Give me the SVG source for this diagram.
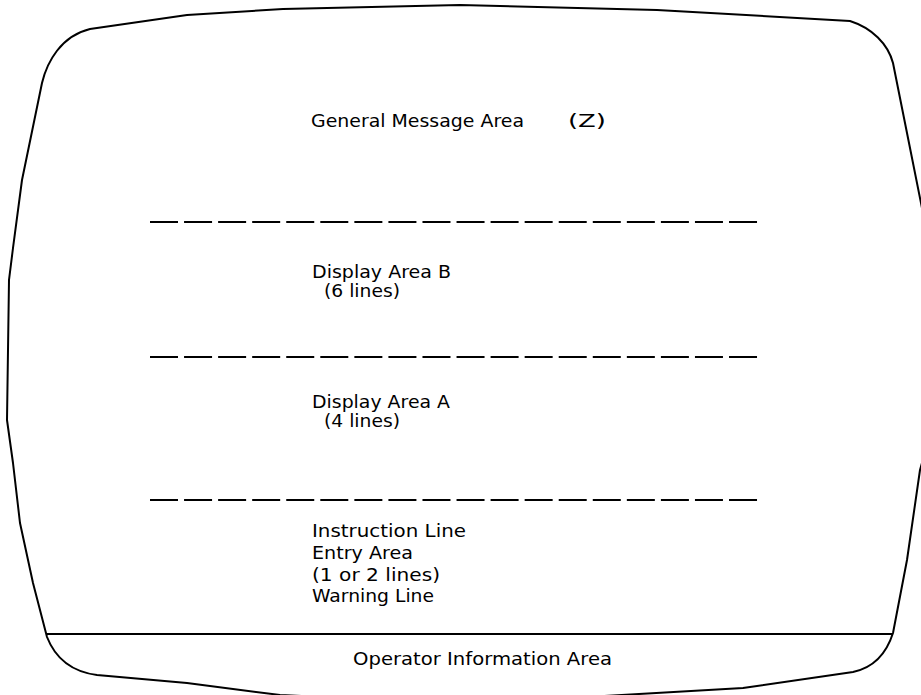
<svg xmlns="http://www.w3.org/2000/svg" width="921" height="695" viewBox="0 0 921 695">
  <style>
    .outline { fill: none; stroke: #000; stroke-width: 2; stroke-linejoin: round; }
    .sep { fill: none; stroke: #000; stroke-width: 2; stroke-dasharray: 28 6.06; }
    .solid { fill: none; stroke: #000; stroke-width: 1.8; }
    .lbl { font-family: "DejaVu Sans", "Liberation Sans", sans-serif; font-size: 17px; fill: #000; }
  </style>
  <rect width="921" height="695" fill="#fff"/>
  <g id="screen-outline">
    <path class="outline" d="M 187,15 L 283,9 L 460,5 L 657,10 L 850,21 C 872,28 888,44 893,63 L 907,133 L 921,203 L 940,300 L 940,400 L 920,470 L 907,560 L 893,633 C 886,655 872,668 853,672 L 743,688 L 587,697 L 430,702 L 280,695 L 187,683 L 97,675 C 74,672 56,660 47,637 L 33,583 L 20,523 L 13,463 L 7,420 L 8,350 L 9,280 L 13,248 L 22,180 L 42,83 C 47,62 61,36 90,29 Z"/>
  </g>
  <g id="separators">
    <line class="sep" x1="150" y1="222" x2="758" y2="222"/>
    <line class="sep" x1="150" y1="357" x2="758" y2="357"/>
    <line class="sep" x1="150" y1="500" x2="758" y2="500"/>
    <line class="solid" x1="47" y1="634" x2="893" y2="634"/>
  </g>
  <g id="general-message-area">
    <text class="lbl" x="311" y="127" textLength="213" lengthAdjust="spacingAndGlyphs">General Message Area</text>
    <text class="lbl" x="568" y="127" textLength="38" lengthAdjust="spacingAndGlyphs">(Z)</text>
  </g>
  <g id="display-area-b">
    <text class="lbl" x="312" y="278" textLength="139" lengthAdjust="spacingAndGlyphs">Display Area B</text>
    <text class="lbl" x="324" y="297" textLength="76" lengthAdjust="spacingAndGlyphs">(6 lines)</text>
  </g>
  <g id="display-area-a">
    <text class="lbl" x="312" y="408" textLength="138" lengthAdjust="spacingAndGlyphs">Display Area A</text>
    <text class="lbl" x="324" y="427" textLength="76" lengthAdjust="spacingAndGlyphs">(4 lines)</text>
  </g>
  <g id="entry-area">
    <text class="lbl" x="312" y="537" textLength="154" lengthAdjust="spacingAndGlyphs">Instruction Line</text>
    <text class="lbl" x="312" y="559" textLength="101" lengthAdjust="spacingAndGlyphs">Entry Area</text>
    <text class="lbl" x="312" y="581" textLength="128" lengthAdjust="spacingAndGlyphs">(1 or 2 lines)</text>
    <text class="lbl" x="312" y="602" textLength="122" lengthAdjust="spacingAndGlyphs">Warning Line</text>
  </g>
  <g id="operator-information-area">
    <text class="lbl" x="353" y="665" textLength="259" lengthAdjust="spacingAndGlyphs">Operator Information Area</text>
  </g>
</svg>
